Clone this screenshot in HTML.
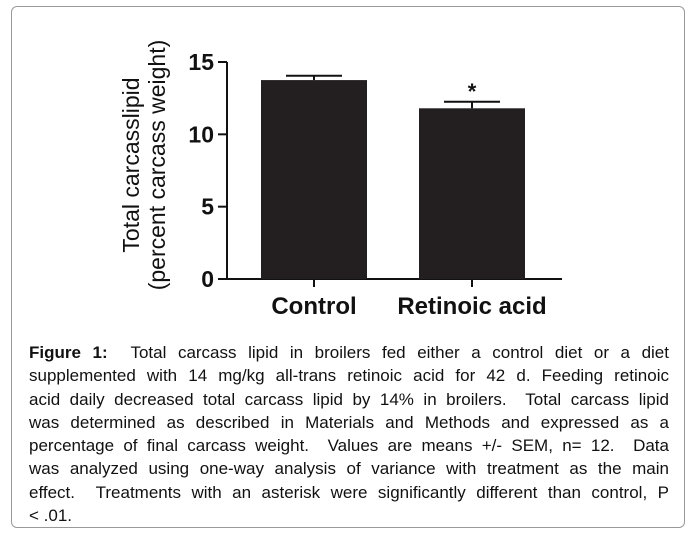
<!DOCTYPE html>
<html><head><meta charset="utf-8"><style>
body{margin:0;width:694px;height:534px;background:#fff;overflow:hidden;font-family:"Liberation Sans",Arial,sans-serif}
#frame{position:absolute;left:11px;top:6px;width:672px;height:520px;border:1px solid #999;border-radius:6px}
.cap{position:absolute;left:29px;width:640px;font-size:17px;line-height:23.3px;color:#111}
.ln{display:block;text-align:justify;text-align-last:justify;white-space:nowrap;height:23.3px}
.ln.last{text-align-last:left}
</style></head><body>
<div id="frame"></div>
<svg id="chart" width="694" height="330" style="position:absolute;left:0;top:0"></svg>
<div class="cap" style="top:341px">
<span class="ln"><b>Figure 1:</b>&nbsp; Total carcass lipid in broilers fed either a control diet or a diet</span>
<span class="ln">supplemented with 14 mg/kg all-trans retinoic acid for 42 d. Feeding retinoic</span>
<span class="ln">acid daily decreased total carcass lipid by 14% in broilers.&nbsp; Total carcass lipid</span>
<span class="ln">was determined as described in Materials and Methods and expressed as a</span>
<span class="ln">percentage of final carcass weight.&nbsp; Values are means +/- SEM, n= 12.&nbsp; Data</span>
<span class="ln">was analyzed using one-way analysis of variance with treatment as the main</span>
<span class="ln">effect.&nbsp; Treatments with an asterisk were significantly different than control, P</span>
<span class="ln last">&lt; .01.</span>
</div>
<script>
const categories=["Control","Retinoic acid"];
const means=[13.75,11.8];
const sems=[0.3,0.45];
const sig=[false,true];
const yTicks=[0,5,10,15];
const NS="http://www.w3.org/2000/svg";
const svg=document.getElementById('chart');
const x0=227,x1=562,yBase=279,yTop=62,yMax=15;
const y=v=>yBase-(yBase-yTop)*v/yMax;
const firstCenter=314,step=158;
const xc=i=>firstCenter+step*i;
function mk(t,a){const e=document.createElementNS(NS,t);for(const k in a)e.setAttribute(k,a[k]);svg.appendChild(e);return e;}
let e=mk('line',{x1:x0,y1:yTop,x2:x0,y2:yBase,stroke:'#111','stroke-width':2});


e=mk('line',{x1:x0,y1:yBase,x2:x1,y2:yBase,stroke:'#111','stroke-width':2});


yTicks.forEach(t=>{
 let l=mk('line',{x1:x0-9,y1:y(t),x2:x0,y2:y(t),stroke:'#111','stroke-width':2});
 
 
 let tx=mk('text',{x:x0-13,y:y(t)+8,'text-anchor':'end','font-size':23,'font-weight':'bold',fill:'#111'});
 tx.textContent=t;
 
 
});
const bw=106;
categories.forEach((c,i)=>{
 const X=xc(i);
 let b=mk('rect',{x:X-bw/2,y:y(means[i]),width:bw,height:yBase-y(means[i]),fill:'#231f20'});
 
 
 let el=mk('line',{x1:X,y1:y(means[i]),x2:X,y2:y(means[i]+sems[i]),stroke:'#111','stroke-width':2});
 
 
 let cap=mk('line',{x1:X-28,y1:y(means[i]+sems[i]),x2:X+28,y2:y(means[i]+sems[i]),stroke:'#111','stroke-width':2});
 
 
 let tk=mk('line',{x1:X,y1:yBase,x2:X,y2:yBase+8,stroke:'#111','stroke-width':2});
 
 
 let tl=mk('text',{x:X,y:314,'text-anchor':'middle','font-size':24,'font-weight':'bold',fill:'#111'});
 tl.textContent=c;
 
 
 if(sig[i]){
  let s=mk('text',{x:X,y:y(means[i]+sems[i])-3,'text-anchor':'middle','font-size':22,'font-weight':'bold',fill:'#111'});
  s.textContent='*';
  
  
 }
});
[["Total carcasslipid",139],["(percent carcass weight)",165]].forEach(([t,xx])=>{
 let tt=mk('text',{x:xx,y:165,'text-anchor':'middle','font-size':23,fill:'#111',transform:`rotate(-90 ${xx} 165)`});
 tt.textContent=t;
 
 
});
</script>
</body></html>
